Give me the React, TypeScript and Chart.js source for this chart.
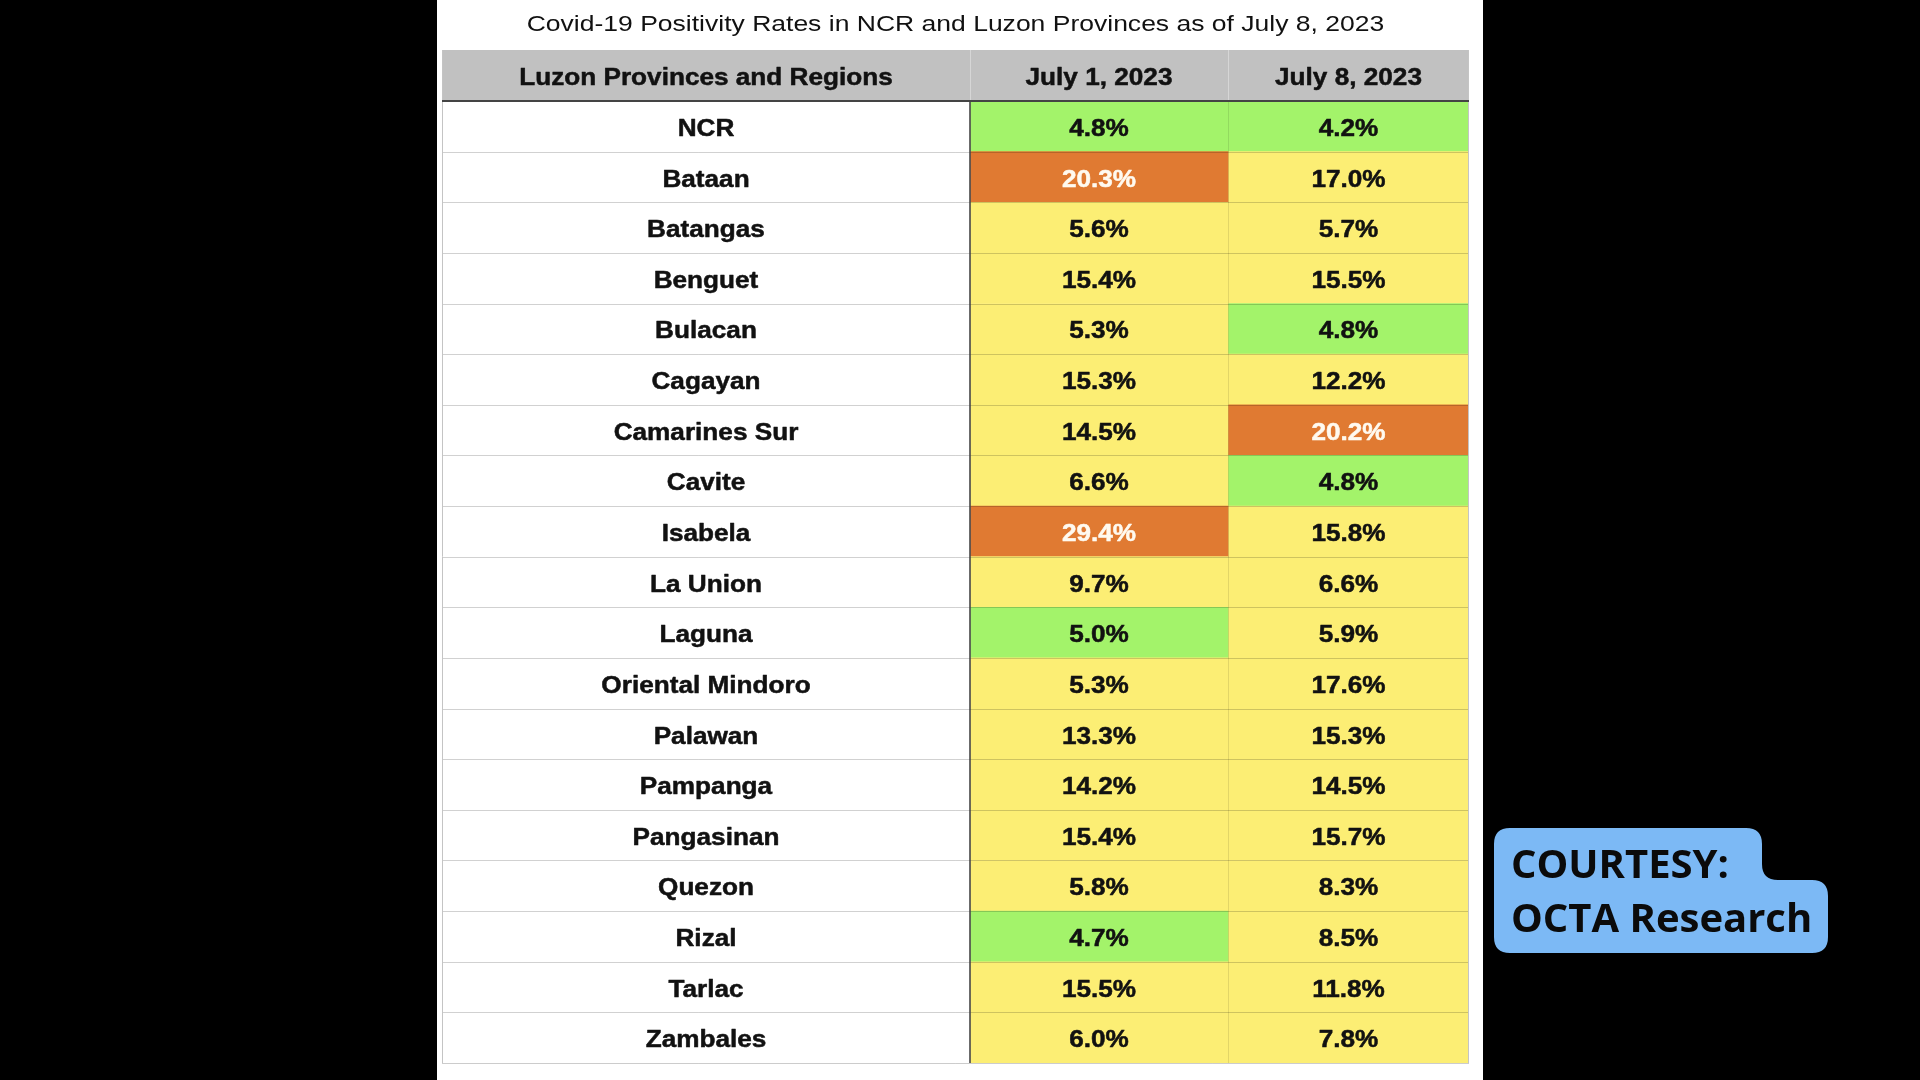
import React, { useEffect, useRef } from "react";
import { Chart, registerables } from "chart.js";

Chart.register(...registerables);

// ---------- data ----------
const chartTitle = "Covid-19 Positivity Rates in NCR and Luzon Provinces as of July 8, 2023";
const headerLabels = ["Luzon Provinces and Regions", "July 1, 2023", "July 8, 2023"];
const regions = [
  "NCR", "Bataan", "Batangas", "Benguet", "Bulacan", "Cagayan", "Camarines Sur",
  "Cavite", "Isabela", "La Union", "Laguna", "Oriental Mindoro", "Palawan",
  "Pampanga", "Pangasinan", "Quezon", "Rizal", "Tarlac", "Zambales",
];
const july1 = [4.8, 20.3, 5.6, 15.4, 5.3, 15.3, 14.5, 6.6, 29.4, 9.7, 5.0, 5.3, 13.3, 14.2, 15.4, 5.8, 4.7, 15.5, 6.0];
const july8 = [4.2, 17.0, 5.7, 15.5, 4.8, 12.2, 20.2, 4.8, 15.8, 6.6, 5.9, 17.6, 15.3, 14.5, 15.7, 8.3, 8.5, 11.8, 7.8];
const courtesyLines = ["COURTESY:", "OCTA Research"];

// ---------- layout / style ----------
const W = 1920;
const H = 1080;
const COL_EDGES = [0, 528, 786, 1027]; // column boundaries in x-scale units
const PAD = { left: 442, right: W - 1469, top: 101, bottom: H - 1063 };
const GREEN = "#a3f36a";
const YELLOW = "#fcee74";
const ORANGE = "#e07a32";
const FONT = "'Liberation Sans', Arial, Helvetica, sans-serif";
const SX = 1.09; // horizontal stretch of text in reference

const cellColor = (v: number) => (v <= 5.0 ? GREEN : v >= 20 ? ORANGE : YELLOW);
const textColor = (v: number) => (v >= 20 ? "#fffaf0" : "#111111");
const fmt = (v: number) => v.toFixed(1) + "%";

function sText(ctx: CanvasRenderingContext2D, t: string, x: number, y: number, sx = SX, stroke = 0) {
  ctx.save();
  ctx.translate(x, y);
  ctx.scale(sx, 1);
  if (stroke > 0) {
    ctx.lineWidth = stroke;
    ctx.strokeStyle = ctx.fillStyle as string;
    ctx.lineJoin = "round";
    ctx.strokeText(t, 0, 0);
  }
  ctx.fillText(t, 0, 0);
  ctx.restore();
}

const tablePlugin = {
  id: "tablePlugin",
  beforeDraw(chart: any) {
    const { ctx, chartArea } = chart;
    const xs = chart.scales.x;
    ctx.save();
    ctx.fillStyle = "#000000";
    ctx.fillRect(0, 0, W, H);
    ctx.fillStyle = "#ffffff";
    ctx.fillRect(437, 0, 1483 - 437, H);

    // title
    ctx.fillStyle = "#111111";
    ctx.font = `22px ${FONT}`;
    ctx.textAlign = "center";
    ctx.textBaseline = "middle";
    sText(ctx, chartTitle, (chartArea.left + chartArea.right) / 2, 25, 1.205);

    // header
    const hTop = 50;
    const hBot = chartArea.top;
    ctx.fillStyle = "#c1c1c1";
    ctx.fillRect(chartArea.left, hTop, chartArea.right - chartArea.left, hBot - hTop);
    ctx.strokeStyle = "#d6d6d6";
    ctx.lineWidth = 1;
    for (let i = 1; i < COL_EDGES.length - 1; i++) {
      const x = Math.round(xs.getPixelForValue(COL_EDGES[i])) + 0.5;
      ctx.beginPath();
      ctx.moveTo(x, hTop);
      ctx.lineTo(x, hBot);
      ctx.stroke();
    }
    ctx.fillStyle = "#111111";
    ctx.font = `bold 24px ${FONT}`;
    for (let i = 0; i < headerLabels.length; i++) {
      const cx = (xs.getPixelForValue(COL_EDGES[i]) + xs.getPixelForValue(COL_EDGES[i + 1])) / 2;
      sText(ctx, headerLabels[i], cx, (hTop + hBot) / 2 + 3, SX, 0.5);
    }

    // courtesy box
    const L = 1494, T = 828, R1 = 1762, R2 = 1828, M = 880, B = 953, r = 16;
    ctx.fillStyle = "#7cb9f5";
    ctx.beginPath();
    ctx.moveTo(L + r, T);
    ctx.lineTo(R1 - r, T);
    ctx.quadraticCurveTo(R1, T, R1, T + r);
    ctx.lineTo(R1, M - r);
    ctx.quadraticCurveTo(R1, M, R1 + r, M);
    ctx.lineTo(R2 - r, M);
    ctx.quadraticCurveTo(R2, M, R2, M + r);
    ctx.lineTo(R2, B - r);
    ctx.quadraticCurveTo(R2, B, R2 - r, B);
    ctx.lineTo(L + r, B);
    ctx.quadraticCurveTo(L, B, L, B - r);
    ctx.lineTo(L, T + r);
    ctx.quadraticCurveTo(L, T, L + r, T);
    ctx.closePath();
    ctx.fill();
    ctx.fillStyle = "#0b0b0b";
    ctx.font = `bold 40px 'Open Sans', 'Noto Sans', sans-serif`;
    ctx.textAlign = "left";
    ctx.textBaseline = "middle";
    ctx.fillText(courtesyLines[0], 1511, 867);
    ctx.fillText(courtesyLines[1], 1511, 921);
    ctx.restore();
  },
  afterDatasetsDraw(chart: any) {
    const { ctx, chartArea } = chart;
    const xs = chart.scales.x;
    const ys = chart.scales.y;
    ctx.save();
    // horizontal row lines
    ctx.lineWidth = 1;
    for (let i = 1; i < regions.length; i++) {
      const y = Math.round((ys.getPixelForValue(i - 1) + ys.getPixelForValue(i)) / 2) + 0.5;
      ctx.strokeStyle = "rgba(0,0,0,0.18)";
      ctx.beginPath();
      ctx.moveTo(chartArea.left, y);
      ctx.lineTo(chartArea.right, y);
      ctx.stroke();
    }
    // bottom line
    ctx.strokeStyle = "rgba(0,0,0,0.2)";
    ctx.beginPath();
    ctx.moveTo(chartArea.left, chartArea.bottom + 0.5);
    ctx.lineTo(chartArea.right, chartArea.bottom + 0.5);
    ctx.stroke();
    // outer left/right
    ctx.strokeStyle = "#c4c4c4";
    ctx.beginPath();
    ctx.moveTo(chartArea.left + 0.5, 50);
    ctx.lineTo(chartArea.left + 0.5, chartArea.bottom);
    ctx.moveTo(chartArea.right - 0.5, 50);
    ctx.lineTo(chartArea.right - 0.5, chartArea.bottom);
    ctx.stroke();
    // column separators
    const x1 = Math.round(xs.getPixelForValue(COL_EDGES[1]));
    ctx.strokeStyle = "#3a3a3a";
    ctx.lineWidth = 1.5;
    ctx.beginPath();
    ctx.moveTo(x1, chartArea.top);
    ctx.lineTo(x1, chartArea.bottom);
    ctx.stroke();
    const x2 = Math.round(xs.getPixelForValue(COL_EDGES[2])) + 0.5;
    ctx.strokeStyle = "rgba(0,0,0,0.1)";
    ctx.lineWidth = 1;
    ctx.beginPath();
    ctx.moveTo(x2, chartArea.top);
    ctx.lineTo(x2, chartArea.bottom);
    ctx.stroke();
    // header bottom line
    ctx.strokeStyle = "#444444";
    ctx.lineWidth = 2;
    ctx.beginPath();
    ctx.moveTo(chartArea.left, chartArea.top);
    ctx.lineTo(chartArea.right, chartArea.top);
    ctx.stroke();

    // texts
    ctx.font = `bold 24px ${FONT}`;
    ctx.textAlign = "center";
    ctx.textBaseline = "middle";
    const labelCx = (xs.getPixelForValue(COL_EDGES[0]) + xs.getPixelForValue(COL_EDGES[1])) / 2;
    ctx.fillStyle = "#111111";
    regions.forEach((name, i) => {
      sText(ctx, name, labelCx, ys.getPixelForValue(i) + 3, SX, 0.5);
    });
    [july1, july8].forEach((vals, k) => {
      const meta = chart.getDatasetMeta(k + 1);
      meta.data.forEach((el: any, i: number) => {
        const v = vals[i];
        ctx.fillStyle = textColor(v);
        sText(ctx, fmt(v), (el.x + el.base) / 2, el.y + 3, SX, 0.5);
      });
    });
    ctx.restore();
  },
};

export default function App() {
  const ref = useRef<HTMLCanvasElement | null>(null);
  useEffect(() => {
    if (!ref.current) return;
    const chart = new Chart(ref.current, {
      type: "bar",
      data: {
        labels: regions,
        datasets: [
          {
            label: "Region",
            data: regions.map(() => [COL_EDGES[0], COL_EDGES[1]]) as any,
            backgroundColor: "#ffffff",
          },
          {
            label: headerLabels[1],
            data: july1.map(() => [COL_EDGES[1], COL_EDGES[2]]) as any,
            backgroundColor: july1.map(cellColor),
          },
          {
            label: headerLabels[2],
            data: july8.map(() => [COL_EDGES[2], COL_EDGES[3]]) as any,
            backgroundColor: july8.map(cellColor),
          },
        ],
      },
      options: {
        indexAxis: "y",
        responsive: false,
        animation: false,
        layout: { padding: PAD },
        datasets: {
          bar: { grouped: false, barPercentage: 1, categoryPercentage: 1, borderWidth: 0 } as any,
        },
        scales: {
          x: { type: "linear", min: COL_EDGES[0], max: COL_EDGES[3], display: false },
          y: { type: "category", display: false, offset: true },
        },
        plugins: { legend: { display: false }, tooltip: { enabled: false }, title: { display: false } },
      },
      plugins: [tablePlugin],
    });
    return () => chart.destroy();
  }, []);
  return (
    <div style={{ position: "fixed", left: 0, top: 0, width: W, height: H, background: "#000" }}>
      <canvas ref={ref} width={W} height={H} style={{ width: W, height: H, display: "block" }} />
    </div>
  );
}
